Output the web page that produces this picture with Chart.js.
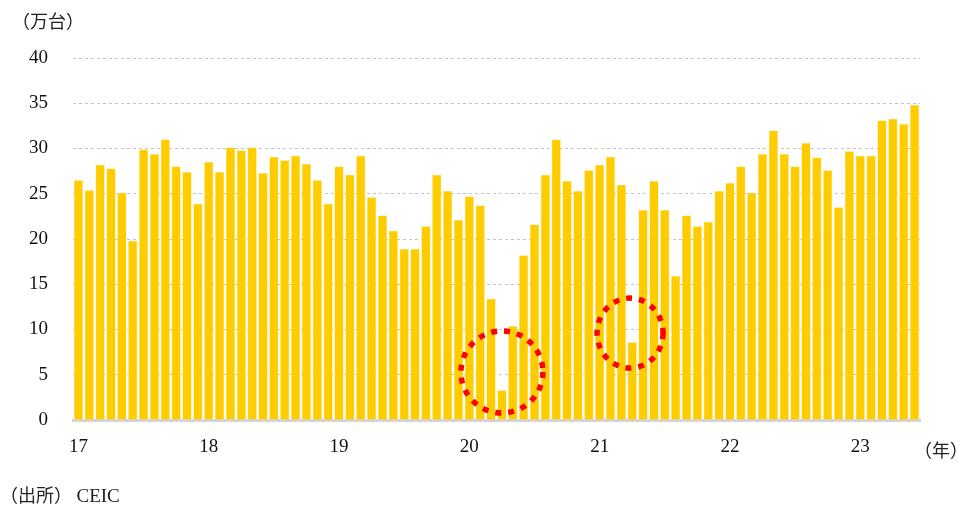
<!DOCTYPE html>
<html>
<head>
<meta charset="utf-8">
<script src="https://cdn.jsdelivr.net/npm/chart.js@4.4.1/dist/chart.umd.min.js"></script>
<style>
  html, body { margin: 0; padding: 0; background: #fff; }
  #wrap { position: relative; width: 961px; height: 505px; }
  canvas { position: absolute; left: 0; top: 0; }
  .note { position: absolute; font-family: "Times New Roman", "Liberation Serif", "Noto Sans CJK JP", serif; color: #222; font-size: 18px; white-space: nowrap; }
</style>
</head>
<body>
<div id="wrap">
  <canvas id="salesChart" width="961" height="505"></canvas>
  <div class="note" style="left:12px; top:7px;">（万台）</div>
  <div class="note" style="left:914px; top:436px;">（年）</div>
  <div class="note" style="left:0px; top:481px;">（出所） <span style="font-size:19px;">CEIC</span></div>
</div>
<script>
// monthly sales, Jan 2017 - Jun 2023 (10k units)
const years = ["17", "18", "19", "20", "21", "22", "23"];
const monthsInLastYear = 6;
const sales = [
  26.5, 25.4, 28.2, 27.8, 25.1, 19.8, 29.9, 29.4, 31.0, 28.0, 27.4, 23.9,
  28.5, 27.4, 30.1, 29.8, 30.1, 27.3, 29.1, 28.7, 29.2, 28.3, 26.5, 23.9,
  28.0, 27.1, 29.2, 24.6, 22.6, 20.9, 18.9, 18.9, 21.4, 27.1, 25.3, 22.1,
  24.7, 23.7, 13.4, 3.3, 10.4, 18.2, 21.6, 27.1, 31.0, 26.4, 25.3, 27.6,
  28.2, 29.1, 26.0, 8.6, 23.2, 26.4, 23.2, 15.9, 22.6, 21.4, 21.9, 25.3,
  26.2, 28.0, 25.1, 29.4, 32.0, 29.4, 28.0, 30.6, 29.0, 27.6, 23.5, 29.7,
  29.2, 29.2, 33.1, 33.3, 32.7, 34.8
];
const yTicks = [0, 5, 10, 15, 20, 25, 30, 35, 40];

// highlighted months: [category index, value at circle centre]
const highlights = [[39, 5.3], [50.8, 9.6]];

const labels = [];
years.forEach((y, i) => {
  const n = i === years.length - 1 ? monthsInLastYear : 12;
  for (let m = 1; m <= n; m++) labels.push(`${y}-${String(m).padStart(2, "0")}`);
});

const serif = '"Times New Roman", "Liberation Serif", "Noto Sans CJK JP", serif';

const circlePlugin = {
  id: "circles",
  afterDatasetsDraw(chart) {
    const { ctx, scales } = chart;
    const radii = [[41, 41], [33, 35]];
    ctx.save();
    ctx.strokeStyle = "#ff0000";
    ctx.lineWidth = 5.5;
    ctx.setLineDash([6, 7]);
    highlights.forEach(([idx, val], i) => {
      const x0 = scales.x.getPixelForValue(0);
      const x1 = scales.x.getPixelForValue(1);
      const cx = x0 + (x1 - x0) * idx;
      const cy = scales.y.getPixelForValue(val);
      ctx.beginPath();
      ctx.ellipse(cx, cy, radii[i][0], radii[i][1], 0, 0, Math.PI * 2);
      ctx.stroke();
    });
    ctx.restore();
  }
};

new Chart(document.getElementById("salesChart"), {
  type: "bar",
  data: {
    labels,
    datasets: [{
      data: sales,
      backgroundColor: "#ffcc00",
      borderColor: "#ffe066",
      borderWidth: 0.5,
      barPercentage: 0.84,
      categoryPercentage: 1
    }]
  },
  options: {
    responsive: false,
    animation: false,
    layout: { padding: { top: 58, right: 41, bottom: 35, left: 0 } },
    plugins: { legend: { display: false }, tooltip: { enabled: false } },
    scales: {
      x: {
        grid: { display: false, drawTicks: false },
        border: { display: true, color: "#d4d4d4", width: 3 },
        afterFit(scale) { scale.height = 50; },
        ticks: {
          autoSkip: false,
          maxRotation: 0,
          padding: 16,
          color: "#111",
          font: { family: serif, size: 19 },
          callback(value) {
            const lab = labels[value];
            return lab.endsWith("-01") ? lab.slice(0, 2) : "";
          }
        }
      },
      y: {
        min: 0,
        max: 40,
        afterFit(scale) { scale.width = 73; },
        afterBuildTicks(scale) { scale.ticks = yTicks.map(v => ({ value: v })); },
        grid: {
          color: ctx => ctx.tick && ctx.tick.value === 0 ? "rgba(0,0,0,0)" : "#c4c4c4",
          lineWidth: 1,
          drawTicks: false
        },
        border: { display: false, dash: [3, 3] },
        ticks: {
          padding: 25,
          color: "#111",
          font: { family: serif, size: 19 }
        }
      }
    }
  },
  plugins: [circlePlugin]
});
</script>
</body>
</html>
